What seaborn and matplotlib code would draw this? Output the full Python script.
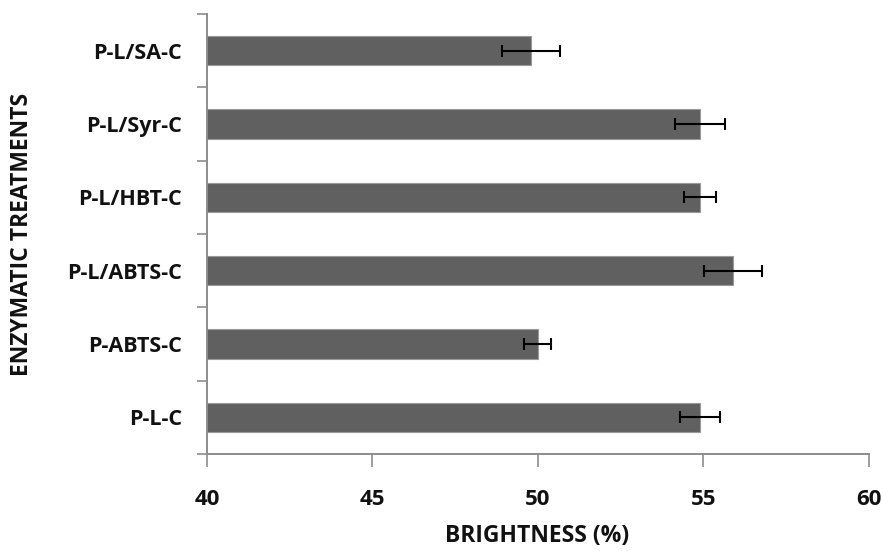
import matplotlib
matplotlib.use("Agg")
import matplotlib.pyplot as plt
import seaborn as sns
import pandas as pd
import numpy as np

categories = ["P-L/SA-C", "P-L/Syr-C", "P-L/HBT-C", "P-L/ABTS-C", "P-ABTS-C", "P-L-C"]
brightness = [49.8, 54.9, 54.9, 55.9, 50.0, 54.9]
errors = [0.88, 0.75, 0.48, 0.87, 0.41, 0.60]
x_ticks = [40, 45, 50, 55, 60]

df = pd.DataFrame({"treatment": categories, "brightness": brightness, "err": errors})

sns.set_theme(style="white")
plt.rcParams['font.family'] = ['Open Sans', 'DejaVu Sans']

fig = plt.figure(figsize=(8.83, 5.51), dpi=100)
ax = fig.add_axes([0.2344, 0.176, 0.7496, 0.7986])

sns.barplot(data=df, y="treatment", x="brightness", orient="h", order=categories,
            color="#606060", saturation=1, width=0.4, edgecolor="#9a9a9a", linewidth=0.8,
            errorbar=None, ax=ax)
ypos = np.arange(len(categories))
ax.errorbar(df["brightness"], ypos, xerr=df["err"], fmt="none", ecolor="black",
            elinewidth=1.5, capsize=4, capthick=1.5)

ax.set_xlim(40, 60)
ax.set_ylim(5.5, -0.5)
ax.set_xticks(x_ticks)
ax.set_xticklabels([str(t) for t in x_ticks], fontsize=16, fontweight="bold", color="#111111")
ax.set_yticks(ypos)
ax.set_yticklabels(categories, fontsize=15.5, fontweight="bold", color="#111111")
ax.set_yticks(np.arange(-0.5, len(categories), 1.0), minor=True)
ax.tick_params(axis="y", which="major", length=0, pad=18)
ax.tick_params(axis="y", which="minor", length=7, width=1.2, color="#8c8c8c", direction="out", left=True)
ax.tick_params(axis="x", which="major", length=9, width=1.2, color="#8c8c8c", direction="out", bottom=True, pad=16)

for s in ["top", "right"]:
    ax.spines[s].set_visible(False)
for s in ["left", "bottom"]:
    ax.spines[s].set_color("#8c8c8c")
    ax.spines[s].set_linewidth(1.4)

ax.set_xlabel("BRIGHTNESS (%)", fontsize=16.5, fontweight="bold", color="#111111")
ax.set_ylabel("ENZYMATIC TREATMENTS", fontsize=16.5, fontweight="bold", color="#111111")
ax.xaxis.set_label_coords(0.4985, -0.158)
ax.yaxis.set_label_coords(-0.261, 0.5)

fig.savefig("out.png", dpi=100)
